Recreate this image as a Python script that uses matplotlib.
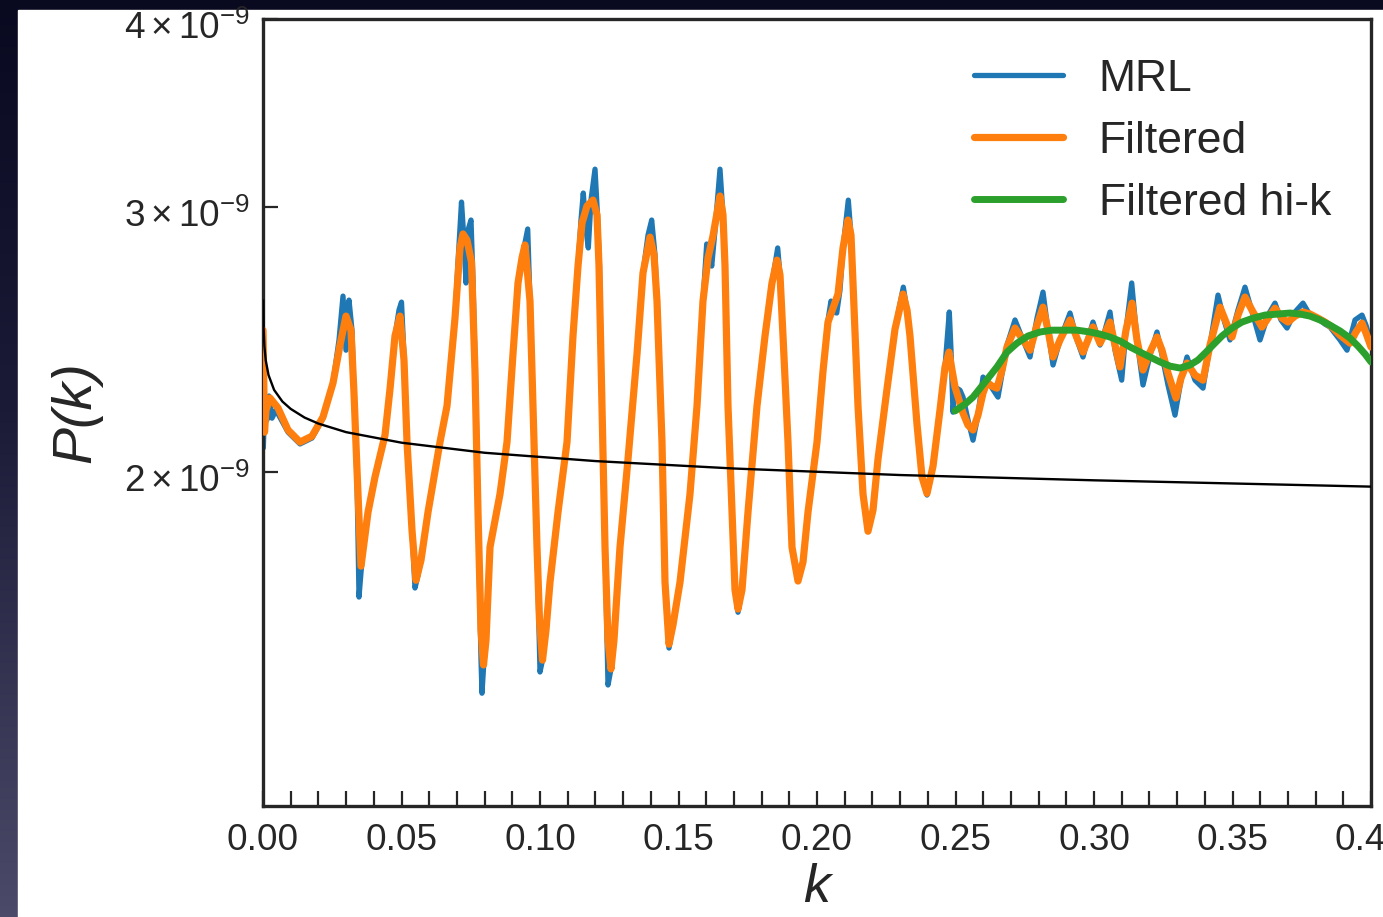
import numpy as np
import matplotlib
matplotlib.use("Agg")
import matplotlib.pyplot as plt
import matplotlib.transforms as mtransforms
from matplotlib.ticker import MultipleLocator, FixedLocator, NullLocator, FormatStrFormatter
from matplotlib.colors import LinearSegmentedColormap
from matplotlib.patches import Rectangle

# ---------------------------------------------------------------------------
# Power spectrum samples: (k, P(k) in units of 1e-9)
# ---------------------------------------------------------------------------
mrl = [
    (0.00011, 2.075), (0.00072, 2.240), (0.00144, 2.166), (0.00217, 2.247), (0.00325, 2.172),
    (0.00469, 2.199), (0.00903, 2.126), (0.01336, 2.088), (0.01769, 2.107), (0.02166, 2.172),
    (0.02527, 2.292), (0.02744, 2.448), (0.02888, 2.618), (0.02996, 2.410), (0.03105, 2.602),
    (0.03213, 2.485), (0.03285, 2.257), (0.03394, 1.976), (0.03466, 1.652), (0.03574, 1.748),
    (0.03791, 1.881), (0.04043, 1.985), (0.04404, 2.116), (0.04585, 2.271), (0.04765, 2.463),
    (0.04910, 2.563), (0.05000, 2.594), (0.05090, 2.392), (0.05199, 2.094), (0.05379, 1.830),
    (0.05487, 1.675), (0.05596, 1.708), (0.05704, 1.748), (0.05957, 1.881), (0.06390, 2.094),
    (0.06643, 2.213), (0.06931, 2.531), (0.07040, 2.758), (0.07166, 3.023), (0.07256, 2.852),
    (0.07329, 2.671), (0.07401, 2.896), (0.07509, 2.941), (0.07581, 2.683), (0.07690, 2.233),
    (0.07762, 1.881), (0.07870, 1.500), (0.07906, 1.426), (0.07978, 1.500), (0.08051, 1.547),
    (0.08195, 1.783), (0.08556, 1.934), (0.08809, 2.094), (0.09025, 2.396), (0.09206, 2.671),
    (0.09350, 2.775), (0.09477, 2.852), (0.09556, 2.901), (0.09639, 2.598), (0.09747, 2.213),
    (0.09892, 1.783), (0.10000, 1.473), (0.10090, 1.500), (0.10217, 1.571), (0.10361, 1.690),
    (0.10650, 1.881), (0.10975, 2.094), (0.11191, 2.463), (0.11372, 2.741), (0.11480, 2.941),
    (0.11563, 3.065), (0.11643, 2.918), (0.11744, 2.818), (0.11841, 3.032), (0.11986, 3.179),
    (0.12076, 2.964), (0.12148, 2.741), (0.12238, 2.213), (0.12347, 1.783), (0.12455, 1.444),
    (0.12563, 1.480), (0.12671, 1.547), (0.12888, 1.783), (0.13177, 2.040), (0.13502, 2.396),
    (0.13718, 2.712), (0.13899, 2.874), (0.14032, 2.941), (0.14152, 2.788), (0.14224, 2.598),
    (0.14404, 2.094), (0.14513, 1.690), (0.14657, 1.528), (0.14801, 1.583), (0.15054, 1.690),
    (0.15415, 1.934), (0.15668, 2.213), (0.15884, 2.598), (0.16018, 2.835), (0.16101, 2.809),
    (0.16199, 2.741), (0.16318, 2.896), (0.16498, 3.179), (0.16606, 2.964), (0.16679, 2.741),
    (0.16787, 2.213), (0.16931, 1.881), (0.17040, 1.670), (0.17148, 1.614), (0.17292, 1.670),
    (0.17509, 1.881), (0.17834, 2.213), (0.18123, 2.463), (0.18375, 2.671), (0.18581, 2.818),
    (0.18664, 2.704), (0.18773, 2.463), (0.18953, 2.094), (0.19097, 1.783), (0.19314, 1.693),
    (0.19495, 1.743), (0.19675, 1.881), (0.20000, 2.094), (0.20217, 2.334), (0.20397, 2.524),
    (0.20505, 2.598), (0.20614, 2.555), (0.20711, 2.551), (0.20830, 2.642), (0.20939, 2.818),
    (0.21130, 3.032), (0.21227, 2.874), (0.21300, 2.671), (0.21480, 2.213), (0.21661, 1.934),
    (0.21841, 1.827), (0.22022, 1.887), (0.22202, 2.040), (0.22527, 2.271), (0.22816, 2.489),
    (0.23116, 2.654), (0.23249, 2.563), (0.23357, 2.463), (0.23610, 2.152), (0.23791, 1.985),
    (0.23971, 1.931), (0.24188, 2.018), (0.24440, 2.199), (0.24621, 2.349), (0.24776, 2.555),
    (0.24838, 2.410), (0.24910, 2.192), (0.24982, 2.278), (0.25162, 2.267), (0.25271, 2.243),
    (0.25451, 2.166), (0.25632, 2.100), (0.25812, 2.182), (0.25993, 2.313), (0.26245, 2.285),
    (0.26534, 2.243), (0.26859, 2.429), (0.27148, 2.524), (0.27437, 2.448), (0.27690, 2.385),
    (0.27942, 2.531), (0.28159, 2.634), (0.28339, 2.485), (0.28520, 2.356), (0.28773, 2.448),
    (0.29134, 2.551), (0.29386, 2.448), (0.29603, 2.385), (0.29783, 2.455), (0.29964, 2.516),
    (0.30217, 2.429), (0.30397, 2.485), (0.30578, 2.555), (0.30758, 2.410), (0.31000, 2.302),
    (0.31155, 2.485), (0.31361, 2.671), (0.31552, 2.448), (0.31769, 2.285), (0.32022, 2.392),
    (0.32274, 2.478), (0.32455, 2.392), (0.32671, 2.285), (0.32924, 2.182), (0.33141, 2.302),
    (0.33357, 2.385), (0.33646, 2.302), (0.33935, 2.274), (0.34188, 2.429), (0.34477, 2.622),
    (0.34693, 2.524), (0.34910, 2.448), (0.35199, 2.563), (0.35451, 2.654), (0.35740, 2.543),
    (0.35993, 2.448), (0.36282, 2.543), (0.36534, 2.590), (0.36751, 2.524), (0.36968, 2.493),
    (0.37256, 2.555), (0.37545, 2.590), (0.37798, 2.543), (0.38087, 2.531), (0.38339, 2.508),
    (0.38520, 2.497), (0.38881, 2.448), (0.39134, 2.410), (0.39422, 2.524), (0.39675, 2.543),
    (0.39819, 2.504), (0.39964, 2.448),
]

filtered = [
    (0.00000, 2.485), (0.00054, 2.126), (0.00108, 2.199), (0.00253, 2.240), (0.00542, 2.206),
    (0.00903, 2.133), (0.01336, 2.094), (0.01769, 2.113), (0.02166, 2.176), (0.02527, 2.292),
    (0.02780, 2.429), (0.02996, 2.539), (0.03177, 2.485), (0.03285, 2.257), (0.03394, 2.006),
    (0.03538, 1.732), (0.03791, 1.881), (0.04043, 1.985), (0.04404, 2.116), (0.04585, 2.271),
    (0.04765, 2.463), (0.04946, 2.539), (0.05090, 2.374), (0.05199, 2.094), (0.05379, 1.830),
    (0.05523, 1.695), (0.05704, 1.748), (0.05957, 1.881), (0.06390, 2.094), (0.06643, 2.213),
    (0.06931, 2.531), (0.07112, 2.818), (0.07220, 2.879), (0.07365, 2.852), (0.07527, 2.758),
    (0.07653, 2.334), (0.07762, 1.881), (0.07870, 1.571), (0.07960, 1.489), (0.08051, 1.547),
    (0.08195, 1.783), (0.08556, 1.934), (0.08809, 2.094), (0.09025, 2.396), (0.09206, 2.671),
    (0.09350, 2.775), (0.09458, 2.831), (0.09639, 2.598), (0.09747, 2.213), (0.09892, 1.783),
    (0.09982, 1.595), (0.10090, 1.500), (0.10217, 1.571), (0.10361, 1.690), (0.10650, 1.881),
    (0.10975, 2.094), (0.11191, 2.463), (0.11372, 2.741), (0.11516, 2.927), (0.11697, 3.005),
    (0.11913, 3.032), (0.12058, 2.964), (0.12130, 2.741), (0.12238, 2.213), (0.12347, 1.783),
    (0.12455, 1.547), (0.12563, 1.480), (0.12671, 1.547), (0.12888, 1.783), (0.13177, 2.040),
    (0.13502, 2.396), (0.13718, 2.712), (0.13971, 2.865), (0.14116, 2.788), (0.14224, 2.598),
    (0.14404, 2.094), (0.14513, 1.690), (0.14657, 1.537), (0.14801, 1.583), (0.15054, 1.690),
    (0.15415, 1.934), (0.15668, 2.213), (0.15884, 2.598), (0.16065, 2.775), (0.16245, 2.870),
    (0.16498, 3.051), (0.16606, 2.964), (0.16679, 2.741), (0.16787, 2.213), (0.16931, 1.881),
    (0.17040, 1.670), (0.17148, 1.622), (0.17292, 1.670), (0.17509, 1.881), (0.17834, 2.213),
    (0.18123, 2.463), (0.18375, 2.671), (0.18556, 2.766), (0.18664, 2.704), (0.18773, 2.463),
    (0.18953, 2.094), (0.19097, 1.783), (0.19314, 1.693), (0.19495, 1.743), (0.19675, 1.881),
    (0.20000, 2.094), (0.20217, 2.334), (0.20397, 2.516), (0.20578, 2.570), (0.20758, 2.626),
    (0.20939, 2.818), (0.21119, 2.941), (0.21227, 2.874), (0.21300, 2.671), (0.21480, 2.213),
    (0.21661, 1.934), (0.21841, 1.827), (0.22022, 1.887), (0.22202, 2.040), (0.22527, 2.271),
    (0.22816, 2.489), (0.23105, 2.626), (0.23249, 2.563), (0.23357, 2.463), (0.23610, 2.152),
    (0.23791, 1.985), (0.23971, 1.936), (0.24188, 2.018), (0.24440, 2.199), (0.24621, 2.349),
    (0.24765, 2.403), (0.24874, 2.338), (0.24982, 2.278), (0.25271, 2.189), (0.25451, 2.149),
    (0.25632, 2.133), (0.25812, 2.182), (0.25993, 2.257), (0.26137, 2.295), (0.26318, 2.281),
    (0.26498, 2.274), (0.26679, 2.338), (0.26859, 2.422), (0.27148, 2.493), (0.27437, 2.448),
    (0.27690, 2.410), (0.27942, 2.504), (0.28159, 2.574), (0.28339, 2.485), (0.28520, 2.385),
    (0.28773, 2.448), (0.29134, 2.524), (0.29386, 2.455), (0.29603, 2.403), (0.29783, 2.448),
    (0.29964, 2.497), (0.30217, 2.436), (0.30397, 2.474), (0.30578, 2.516), (0.30758, 2.429),
    (0.30939, 2.349), (0.31155, 2.485), (0.31372, 2.590), (0.31552, 2.448), (0.31769, 2.338),
    (0.32022, 2.403), (0.32274, 2.459), (0.32455, 2.410), (0.32671, 2.327), (0.32960, 2.240),
    (0.33141, 2.309), (0.33357, 2.363), (0.33646, 2.320), (0.33935, 2.302), (0.34188, 2.429),
    (0.34549, 2.574), (0.34765, 2.516), (0.34982, 2.459), (0.35199, 2.543), (0.35451, 2.614),
    (0.35740, 2.555), (0.36065, 2.497), (0.36282, 2.531), (0.36534, 2.570), (0.36787, 2.531),
    (0.37004, 2.516), (0.37256, 2.539), (0.37545, 2.555), (0.37798, 2.547), (0.38087, 2.531),
    (0.38339, 2.516), (0.38592, 2.497), (0.38881, 2.466), (0.39097, 2.448), (0.39242, 2.436),
    (0.39458, 2.478), (0.39675, 2.512), (0.39819, 2.474), (0.40000, 2.422),
]

filtered_hik = [
    (0.24982, 2.196), (0.25343, 2.219), (0.25632, 2.243), (0.26065, 2.295), (0.26498, 2.349),
    (0.26859, 2.403), (0.27220, 2.436), (0.27617, 2.463), (0.28051, 2.478), (0.28484, 2.485),
    (0.28917, 2.485), (0.29386, 2.485), (0.29856, 2.478), (0.30217, 2.470), (0.30578, 2.459),
    (0.30939, 2.444), (0.31300, 2.422), (0.31661, 2.403), (0.32022, 2.385), (0.32383, 2.367),
    (0.32744, 2.352), (0.33105, 2.345), (0.33466, 2.356), (0.33755, 2.374), (0.34007, 2.399),
    (0.34296, 2.429), (0.34621, 2.463), (0.34982, 2.493), (0.35343, 2.516), (0.35740, 2.531),
    (0.36173, 2.543), (0.36643, 2.547), (0.37076, 2.551), (0.37437, 2.547), (0.37798, 2.539),
    (0.38159, 2.524), (0.38520, 2.504), (0.38881, 2.482), (0.39242, 2.455), (0.39531, 2.425),
    (0.39783, 2.396), (0.40000, 2.367),
]

# smooth no-wiggle reference spectrum
reference = [
    (0.00005, 2.600), (0.0001, 2.555), (0.0002, 2.498), (0.0005, 2.425), (0.001, 2.372),
    (0.002, 2.320), (0.004, 2.268), (0.007, 2.228), (0.01, 2.203), (0.015, 2.174),
    (0.02, 2.154), (0.03, 2.126), (0.05, 2.092), (0.08, 2.060), (0.12, 2.034),
    (0.17, 2.011), (0.23, 1.991), (0.30, 1.975), (0.40, 1.956),
]

x_ticks = [0.00, 0.05, 0.10, 0.15, 0.20, 0.25, 0.30, 0.35, 0.40]
y_ticks = [2e-9, 3e-9, 4e-9]
y_ticklabels = [r"$2\times10^{-9}$", r"$3\times10^{-9}$", r"$4\times10^{-9}$"]
UNIT = 1e-9

# ---------------------------------------------------------------------------
plt.rcParams["font.family"] = ["Liberation Sans", "DejaVu Sans"]
plt.rcParams["mathtext.fontset"] = "custom"
plt.rcParams["mathtext.rm"] = "Liberation Sans"
plt.rcParams["mathtext.it"] = "Liberation Sans:italic"
plt.rcParams["mathtext.bf"] = "Liberation Sans:bold"

INK = "#262626"
W, H = 1383, 917
fig = plt.figure(figsize=(W / 100, H / 100), dpi=100)

# slide backdrop with white figure panel
bg = fig.add_axes([0, 0, 1, 1], zorder=-10)
cmap = LinearSegmentedColormap.from_list(
    "slide", [(0.0, "#090920"), (0.45, "#1b1b38"), (1.0, "#4b4b69")])
bg.imshow(np.linspace(0, 1, 256).reshape(-1, 1), aspect="auto", cmap=cmap,
          extent=[0, 1, 0, 1], origin="upper")
bg.add_patch(Rectangle((18 / W, 0), 1, (H - 10) / H, color="white"))
bg.set_xlim(0, 1)
bg.set_ylim(0, 1)
bg.set_axis_off()

ax = fig.add_axes([263 / W, (H - 806) / H, (1371 - 263) / W, (806 - 19) / H])
ax.set_facecolor("none")

k_m, p_m = np.array(mrl).T
k_f, p_f = np.array(filtered).T
k_h, p_h = np.array(filtered_hik).T
k_r, p_r = np.array(reference).T

line_kw = dict(solid_joinstyle="round", solid_capstyle="round")
ax.plot(k_m, p_m * UNIT, color="#1f77b4", lw=3.8, label="MRL", zorder=2, **line_kw)
ax.plot(k_f, p_f * UNIT, color="#ff7f0e", lw=5.2, label="Filtered", zorder=3, **line_kw)
ax.plot(k_h, p_h * UNIT, color="#2ca02c", lw=5.0, label="Filtered hi-k", zorder=4, **line_kw)
ax.plot(k_r, p_r * UNIT, color="black", lw=1.7, zorder=5)

ax.set_yscale("log")
ax.set_xlim(0, 0.4)
ax.set_ylim(1.2e-9, 4e-9)

ax.xaxis.set_major_locator(FixedLocator(x_ticks))
ax.xaxis.set_minor_locator(MultipleLocator(0.01))
ax.xaxis.set_major_formatter(FormatStrFormatter("%.2f"))
ax.yaxis.set_major_locator(FixedLocator(y_ticks))
ax.yaxis.set_minor_locator(NullLocator())
ax.set_yticklabels(y_ticklabels)

ax.tick_params(which="both", direction="in", length=10.8, width=1.6, color=INK,
               labelsize=26.6, labelcolor=INK, top=False, right=False)
ax.tick_params(axis="x", which="both", pad=12)
ax.tick_params(axis="y", which="both", pad=9)
for s in ax.spines.values():
    s.set_linewidth(2.4)
    s.set_color(INK)

# sit the y tick labels a little below their ticks
shift = mtransforms.ScaledTranslation(0, -6 / 100, fig.dpi_scale_trans)
for lab in ax.get_yticklabels():
    lab.set_transform(lab.get_transform() + shift)

ax.set_xlabel("k", style="italic", fontsize=39, color=INK, labelpad=4)
ax.set_ylabel("P(k)", style="italic", fontsize=40, color=INK, labelpad=16)

ax.legend(loc="upper right", frameon=False, fontsize=32, handlelength=2.0,
          handletextpad=0.8, labelspacing=0.47, labelcolor=INK)

fig.savefig("out.png", dpi=100)
